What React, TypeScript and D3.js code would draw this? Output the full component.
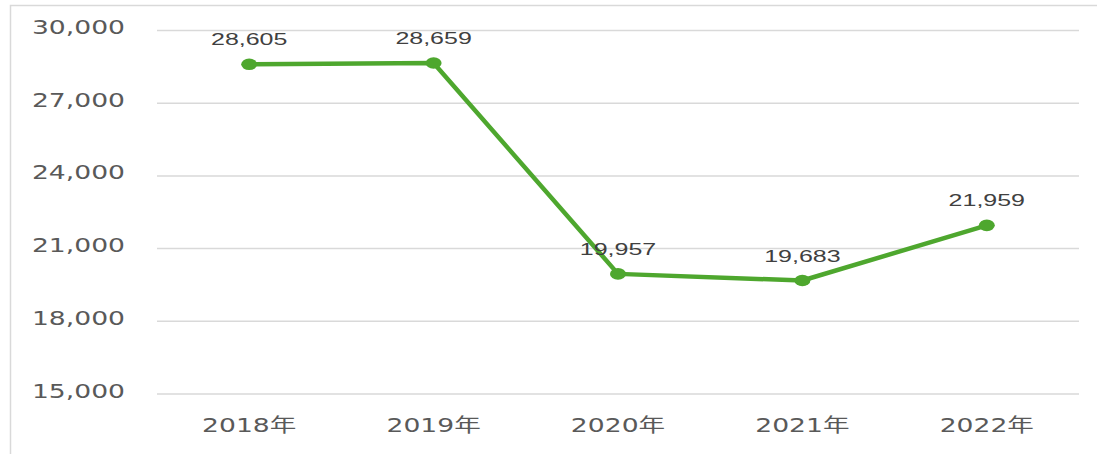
import React from "react";
import * as d3 from "d3";

// 연도별 값
const years = ["2018年", "2019年", "2020年", "2021年", "2022年"];
const values = [28605, 28659, 19957, 19683, 21959];
const yTicks = [15000, 18000, 21000, 24000, 27000, 30000];

const W = 1097;
const H = 454;
const GREEN = "#4ea72e";

const App = () => {
  const x = d3.scaleBand<string>().domain(years).range([157, 1079]);
  const y = d3.scaleLinear().domain([15000, 30000]).range([394, 30.5]);
  const fmt = d3.format(",");

  const cx = (d: string) => (x(d) ?? 0) + x.bandwidth() / 2;

  const line = d3
    .line<number>()
    .x((_, i) => cx(years[i]))
    .y((d) => y(d));

  return (
    <svg
      width={W}
      height={H}
      style={{ position: "absolute", left: 0, top: 0, background: "#fff" }}
    >
      {/* 차트 테두리 */}
      <rect x={10.5} y={5.5} width={1200} height={600} fill="none" stroke="#d9d9d9" strokeWidth={1.5} />

      {/* 그리드와 y축 */}
      {yTicks.map((t) => (
        <g key={t}>
          <line x1={157} x2={1079} y1={y(t)} y2={y(t)} stroke="#d9d9d9" strokeWidth={1.5} />
          <text
            transform={`translate(125,${y(t) + 3.5}) scale(1.4,1)`}
            textAnchor="end"
            fontFamily="DejaVu Sans"
            fontSize={19}
            fill="#595959"
          >
            {fmt(t)}
          </text>
        </g>
      ))}

      {/* x축 라벨 */}
      {years.map((d) => (
        <text
          key={d}
          transform={`translate(${cx(d)},432) scale(1.4,1)`}
          textAnchor="middle"
          fontFamily="DejaVu Sans, Noto Sans CJK SC"
          fontSize={19}
          fill="#595959"
        >
          {d}
        </text>
      ))}

      {/* 선 */}
      <path d={line(values) ?? ""} fill="none" stroke={GREEN} strokeWidth={4.5} strokeLinejoin="round" />

      {values.map((v, i) => (
        <g key={i}>
          <ellipse cx={cx(years[i])} cy={y(v)} rx={8} ry={5.8} fill={GREEN} />
          <text
            transform={`translate(${cx(years[i])},${y(v) - 19}) scale(1.47,1)`}
            textAnchor="middle"
            fontFamily="Liberation Sans, Arial"
            fontSize={17}
            fill="#404040"
          >
            {fmt(v)}
          </text>
        </g>
      ))}
    </svg>
  );
};

export default App;
